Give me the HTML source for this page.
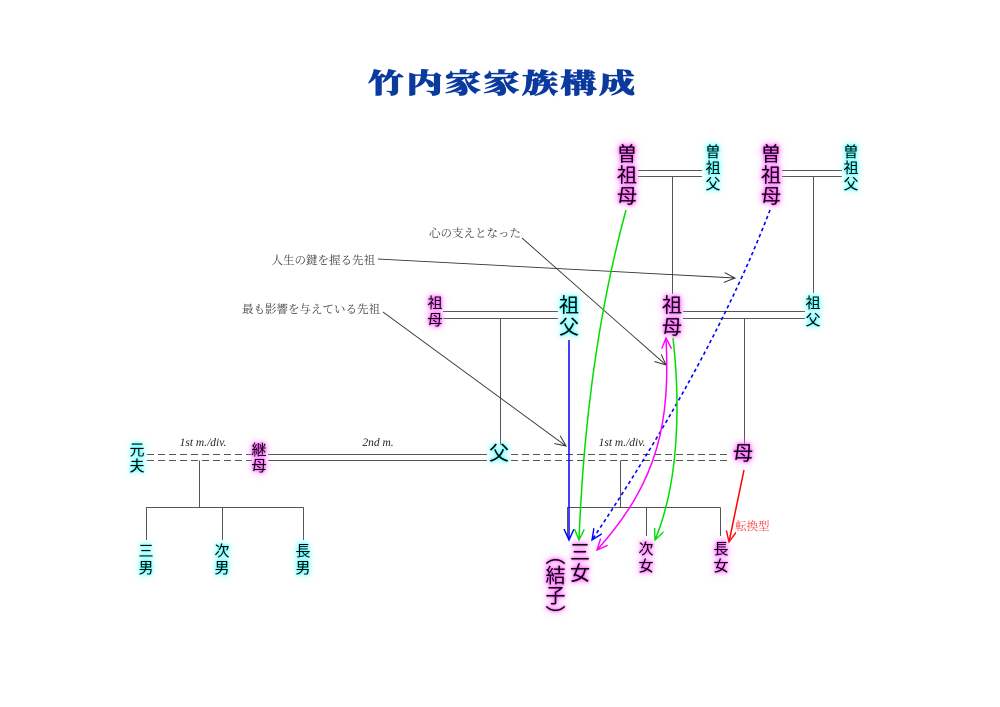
<!DOCTYPE html>
<html>
<head>
<meta charset="utf-8">
<style>
  html, body { margin:0; padding:0; background:#fff; }
  #c { position:relative; width:1000px; height:707px; overflow:hidden; background:#fff; }
  svg { position:absolute; left:0; top:0; }
  .t { position:absolute; font-family:"Liberation Sans","Noto Sans CJK JP",sans-serif; color:#000; text-align:center; white-space:nowrap; transform:translateX(-50%); }
  .b { font-size:20px; line-height:21px; }
  .s { font-size:15px; line-height:16px; }
  .m { text-shadow:0 0 2px #f4f, 0 0 4px #f5f, 0 0 7px #f7f, 0 0 11px #fbf; }
  .cy { text-shadow:0 0 2px #2ff, 0 0 4px #4ff, 0 0 7px #7ff, 0 0 11px #bff; }
  .title { position:absolute; left:368px; top:66px; font-family:"Liberation Serif","Noto Serif CJK JP",serif; font-weight:900; font-size:36px; line-height:36px; letter-spacing:2.5px; color:#0b3a9e; -webkit-text-stroke:0.9px #0b3a9e; white-space:nowrap; transform:scaleY(0.75); transform-origin:50% 50%; }
  .vert { writing-mode:vertical-rl; font-size:20px; line-height:22px; }
</style>
</head>
<body>
<div id="c">
<svg width="1000" height="707" viewBox="0 0 1000 707" xmlns="http://www.w3.org/2000/svg">
  <defs>
    <marker id="aK" markerUnits="userSpaceOnUse" markerWidth="14" markerHeight="12" refX="11" refY="5" orient="auto"><path d="M0,0 L11,5 L0,10" fill="none" stroke="#333" stroke-width="1"/></marker>
    <marker id="aB" markerUnits="userSpaceOnUse" markerWidth="14" markerHeight="12" refX="11" refY="5" orient="auto"><path d="M0,0 L11,5 L0,10" fill="none" stroke="#00f" stroke-width="1.4"/></marker>
    <marker id="aG" markerUnits="userSpaceOnUse" markerWidth="14" markerHeight="12" refX="11" refY="5" orient="auto"><path d="M0,0 L11,5 L0,10" fill="none" stroke="#0d0" stroke-width="1.4"/></marker>
    <marker id="aM" markerUnits="userSpaceOnUse" markerWidth="14" markerHeight="12" refX="11" refY="5" orient="auto-start-reverse"><path d="M0,0 L11,5 L0,10" fill="none" stroke="#f0f" stroke-width="1.4"/></marker>
    <marker id="aR" markerUnits="userSpaceOnUse" markerWidth="14" markerHeight="12" refX="11" refY="5" orient="auto"><path d="M0,0 L11,5 L0,10" fill="none" stroke="#f00" stroke-width="1.4"/></marker>
  </defs>

  <g stroke="#555" stroke-width="1" fill="none">
    <line x1="638" y1="170.5" x2="702" y2="170.5"/>
    <line x1="638" y1="176.5" x2="702" y2="176.5"/>
    <line x1="782" y1="170.5" x2="842" y2="170.5"/>
    <line x1="782" y1="176.5" x2="842" y2="176.5"/>
    <line x1="672.5" y1="176.5" x2="672.5" y2="294"/>
    <line x1="813.5" y1="176.5" x2="813.5" y2="293"/>
    <line x1="443" y1="311.5" x2="558" y2="311.5"/>
    <line x1="443" y1="318.5" x2="558" y2="318.5"/>
    <line x1="683" y1="311.5" x2="805" y2="311.5"/>
    <line x1="683" y1="318.5" x2="805" y2="318.5"/>
    <line x1="500.5" y1="318.5" x2="500.5" y2="445"/>
    <line x1="744.5" y1="318.5" x2="744.5" y2="445"/>
    <line x1="147" y1="454.5" x2="252" y2="454.5" stroke-dasharray="7,4"/>
    <line x1="147" y1="460.5" x2="252" y2="460.5" stroke-dasharray="7,4"/>
    <line x1="268" y1="454.5" x2="487" y2="454.5"/>
    <line x1="268" y1="460.5" x2="487" y2="460.5"/>
    <line x1="511" y1="454.5" x2="731" y2="454.5" stroke-dasharray="7,4"/>
    <line x1="511" y1="460.5" x2="731" y2="460.5" stroke-dasharray="7,4"/>
    <line x1="199.5" y1="460.5" x2="199.5" y2="507.5"/>
    <line x1="146" y1="507.5" x2="303.5" y2="507.5"/>
    <line x1="146.5" y1="507.5" x2="146.5" y2="540"/>
    <line x1="222.5" y1="507.5" x2="222.5" y2="540"/>
    <line x1="303.5" y1="507.5" x2="303.5" y2="540"/>
    <line x1="620.5" y1="460.5" x2="620.5" y2="507.5"/>
    <line x1="567" y1="507.5" x2="720.5" y2="507.5"/>
    <line x1="567.5" y1="507.5" x2="567.5" y2="536"/>
    <line x1="646.5" y1="507.5" x2="646.5" y2="536"/>
    <line x1="720.5" y1="507.5" x2="720.5" y2="536"/>
  </g>

  <g stroke="#333" stroke-width="0.9" fill="none">
    <line x1="522" y1="238" x2="666" y2="365" marker-end="url(#aK)"/>
    <line x1="378" y1="259" x2="735" y2="278" marker-end="url(#aK)"/>
    <line x1="383" y1="312" x2="566" y2="446" marker-end="url(#aK)"/>
  </g>

  <line x1="569" y1="340" x2="569" y2="540" stroke="#00f" stroke-width="1.5" marker-end="url(#aB)"/>
  <path d="M626,210 Q586,357 579,540" stroke="#0d0" stroke-width="1.5" fill="none" marker-end="url(#aG)"/>
  <path d="M770,210 Q713,359 592,540" stroke="#00f" stroke-width="1.6" stroke-dasharray="3.5,3" fill="none" marker-end="url(#aB)"/>
  <path d="M597,550 C660,480 670,420 666,338" stroke="#f0f" stroke-width="1.5" fill="none" marker-start="url(#aM)" marker-end="url(#aM)"/>
  <path d="M673,338 C680,400 680,480 655,540" stroke="#0d0" stroke-width="1.5" fill="none" marker-end="url(#aG)"/>
  <line x1="744" y1="470" x2="729" y2="542" stroke="#f00" stroke-width="1.5" marker-end="url(#aR)"/>

  <g font-family="Liberation Serif, Noto Serif CJK JP, serif" font-size="11.5" fill="#444">
    <text x="521" y="237" text-anchor="end">心の支えとなった</text>
    <text x="375" y="264" text-anchor="end">人生の鍵を握る先祖</text>
    <text x="380" y="313" text-anchor="end">最も影響を与えている先祖</text>
  </g>
  <g font-family="Liberation Serif, serif" font-style="italic" font-size="11.5" fill="#222" text-anchor="middle">
    <text x="203" y="446">1st m./div.</text>
    <text x="378" y="446">2nd m.</text>
    <text x="622" y="446">1st m./div.</text>
  </g>
  <text x="735" y="530" font-family="Liberation Serif, Noto Serif CJK JP, serif" font-size="11.5" fill="#f44">転換型</text>
</svg>

<div class="title">竹内家家族構成</div>

<div class="t b m" style="left:627px;top:145px;">曽<br>祖<br>母</div>
<div class="t s cy" style="left:713px;top:145px;">曽<br>祖<br>父</div>
<div class="t b m" style="left:771px;top:145px;">曽<br>祖<br>母</div>
<div class="t s cy" style="left:851px;top:145px;">曽<br>祖<br>父</div>

<div class="t s m" style="left:435px;top:295px;line-height:17px;">祖<br>母</div>
<div class="t b cy" style="left:569px;top:295px;line-height:22px;">祖<br>父</div>
<div class="t b m" style="left:672px;top:295px;line-height:22px;">祖<br>母</div>
<div class="t s cy" style="left:813px;top:295px;line-height:17px;">祖<br>父</div>

<div class="t s cy" style="left:137px;top:443px;">元<br>夫</div>
<div class="t s m" style="left:259px;top:443px;">継<br>母</div>
<div class="t b cy" style="left:499px;top:444px;">父</div>
<div class="t b m" style="left:743px;top:444px;">母</div>

<div class="t s cy" style="left:146px;top:543px;line-height:17px;">三<br>男</div>
<div class="t s cy" style="left:222px;top:543px;line-height:17px;">次<br>男</div>
<div class="t s cy" style="left:303px;top:543px;line-height:17px;">長<br>男</div>

<div class="t b m" style="left:580px;top:543px;">三<br>女</div>
<div class="t vert m" style="left:553px;top:545px;">（結子）</div>
<div class="t s m" style="left:646px;top:541px;line-height:17px;">次<br>女</div>
<div class="t s m" style="left:721px;top:541px;line-height:17px;">長<br>女</div>
</div>
</body>
</html>
